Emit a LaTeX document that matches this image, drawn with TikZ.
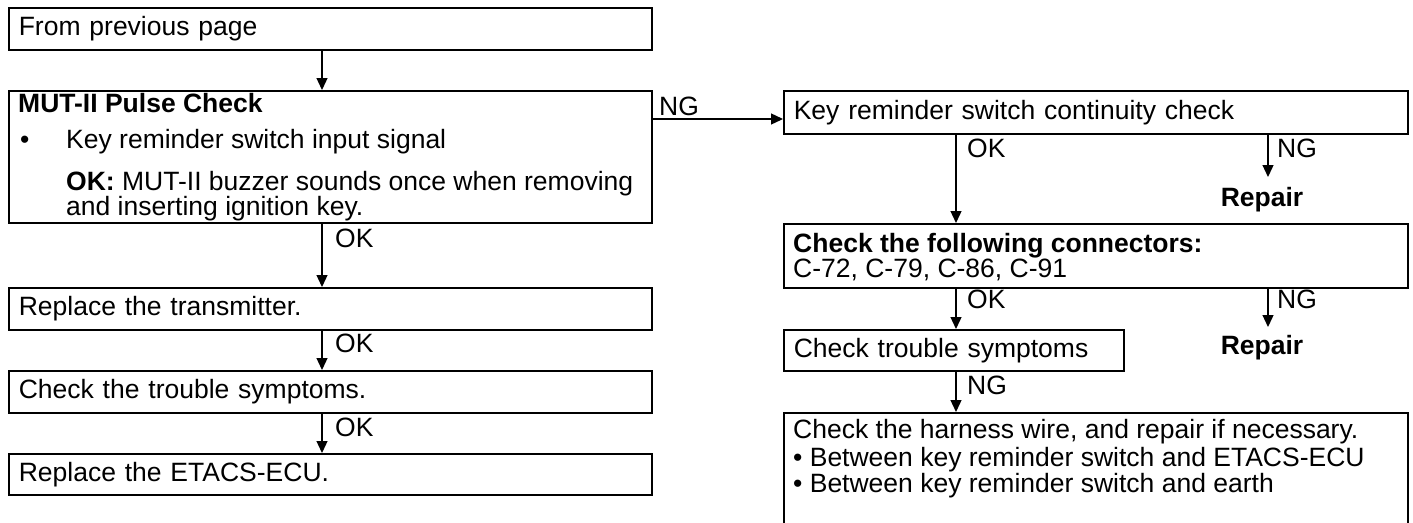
\documentclass[tikz,border=0pt]{standalone}
\usepackage{fontspec}
\setmainfont{Liberation Sans}
\usetikzlibrary{arrows.meta}
\begin{document}
\begin{tikzpicture}[x=1pt,y=-1pt,
  font=\fontsize{26.5}{30}\selectfont,
  every node/.style={inner sep=0pt},
  box/.style={draw, line width=1.6pt, anchor=north west, inner xsep=10pt, inner ysep=0pt, align=left},
  frame/.style={draw, line width=1.6pt, anchor=north west},
  lbl/.style={anchor=base west},
  arr/.style={line width=1.3pt, -{Triangle[length=12pt,width=11pt]}}
]
\useasboundingbox (0,0) rectangle (1413,522);
\clip (0,0) rectangle (1413,522);

% left column
\node[box, text width=623pt, minimum height=42pt] (A) at (8,7) {From previous page};
\node[frame, minimum width=643pt, minimum height=132pt] (B) at (8,90) {};
\node[lbl] (Bt) at (18,112) {\textbf{MUT-II Pulse Check}};
\node[lbl] (Bb) at (20,148) {\textbullet};
\node[lbl] (B1) at (66,148) {Key reminder switch input signal};
\node[lbl] (B2) at (66,190) {\textbf{OK:} MUT-II buzzer sounds once when removing};
\node[lbl] (B3) at (66,215) {and inserting ignition key.};
\node[box, text width=623pt, minimum height=42pt] (T) at (8,287) {Replace the transmitter.};
\node[box, text width=623pt, minimum height=42pt] (S) at (8,370) {Check the trouble symptoms.};
\node[box, text width=623pt, minimum height=41pt] (E) at (8,453) {Replace the ETACS-ECU.};

\coordinate (lx) at (322,0);
\draw[arr] (lx |- A.south) -- (lx |- B.north);
\draw[arr] (lx |- B.south) -- (lx |- T.north);
\draw[arr] (lx |- T.south) -- (lx |- S.north);
\draw[arr] (lx |- S.south) -- (lx |- E.north);
\node[lbl] (ok1) at (335,247) {OK};
\node[lbl] (ok2) at (335,352) {OK};
\node[lbl] (ok3) at (335,436) {OK};

% right column
\node[box, text width=604pt, minimum height=43pt] (C) at (783,90) {Key reminder switch continuity check};
\coordinate (ng0) at (0,119);
\draw[arr] (B.east |- ng0) -- (C.west |- ng0);
\node[lbl] (ngB) at (659,115) {NG};

\coordinate (rx) at (956,0);
\coordinate (nx) at (1268,0);

\node[frame, minimum width=624pt, minimum height=64pt] (D) at (783,223) {};
\node[lbl] (D1) at (793,252) {\textbf{Check the following connectors:}};
\node[lbl] (D2) at (793,277) {C-72, C-79, C-86, C-91};
\draw[arr] (rx |- C.south) -- (rx |- D.north);
\node[lbl] (okC) at (967,157) {OK};
\node[anchor=north, inner ysep=10pt] (R1) at (1262,177) {\textbf{Repair}};
\draw[arr] (nx |- C.south) -- (nx |- R1.north);
\node[lbl] (ngC) at (1277,157) {NG};

\node[box, text width=320pt, minimum height=41pt] (G) at (783,329) {Check trouble symptoms};
\draw[arr] (rx |- D.south) -- (rx |- G.north);
\node[lbl] (okD) at (967,308) {OK};
\node[anchor=north, inner ysep=8pt] (R2) at (1262,327) {\textbf{Repair}};
\draw[arr] (nx |- D.south) -- (nx |- R2.north);
\node[lbl] (ngD) at (1277,308) {NG};

\node[frame, minimum width=624pt, minimum height=140pt] (F) at (783,412) {};
\draw[arr] (rx |- G.south) -- (rx |- F.north);
\node[lbl] (ngG) at (967,394) {NG};
\node[lbl] (F1) at (793,438) {Check the harness wire, and repair if necessary.};
\node[lbl] (F2) at (793,466) {\textbullet\ Between key reminder switch and ETACS-ECU};
\node[lbl] (F3) at (793,492) {\textbullet\ Between key reminder switch and earth};
\end{tikzpicture}
\end{document}
